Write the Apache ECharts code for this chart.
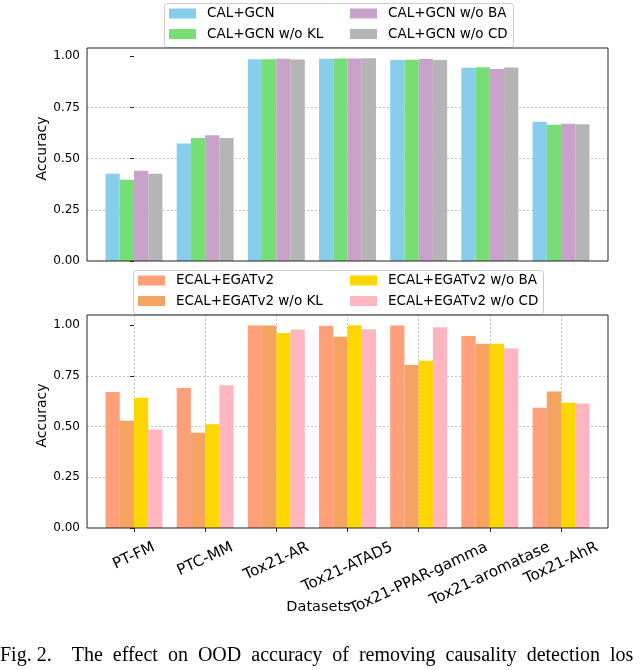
<!DOCTYPE html>
<html><head><meta charset="utf-8">
<script src="https://cdn.jsdelivr.net/npm/echarts@6/dist/echarts.min.js"></script>
<style>html,body{margin:0;padding:0;background:#fff}#c{width:640px;height:670px}</style>
</head><body><div id="c"></div>
<script>
// ---- data ----
const categories = ['PT-FM','PTC-MM','Tox21-AR','Tox21-ATAD5','Tox21-PPAR-gamma','Tox21-aromatase','Tox21-AhR'];
const yTicks = [0, 0.25, 0.5, 0.75, 1.0];
const topNames = ['CAL+GCN','CAL+GCN w/o KL','CAL+GCN w/o BA','CAL+GCN w/o CD'];
const calGcn     = [0.426, 0.574, 0.985, 0.988, 0.982, 0.943, 0.680];
const calGcnNoKL = [0.397, 0.601, 0.985, 0.989, 0.983, 0.946, 0.665];
const calGcnNoBA = [0.441, 0.614, 0.988, 0.989, 0.986, 0.938, 0.670];
const calGcnNoCD = [0.426, 0.601, 0.984, 0.990, 0.982, 0.945, 0.668];
const botNames = ['ECAL+EGATv2','ECAL+EGATv2 w/o KL','ECAL+EGATv2 w/o BA','ECAL+EGATv2 w/o CD'];
const ecal     = [0.671, 0.690, 0.998, 0.997, 0.998, 0.947, 0.593];
const ecalNoKL = [0.529, 0.470, 0.998, 0.943, 0.803, 0.908, 0.673];
const ecalNoBA = [0.642, 0.512, 0.961, 1.000, 0.824, 0.908, 0.617];
const ecalNoCD = [0.486, 0.704, 0.979, 0.980, 0.990, 0.885, 0.614];

// ---- styles ----
const topColors = ['#87CEEB', '#77DD77', '#C8A2C8', '#B5B5B5'];
const botColors = ['#FFA07A', '#F4A460', '#FFD700', '#FFB6C1'];
const FONT = '"DejaVu Sans", sans-serif';
const LBL = 15.2, ROT = 25, OFF = 11, LH = LBL * 1.1;
const rad = ROT * Math.PI / 180;
const ctx = document.createElement('canvas').getContext('2d');
ctx.font = LBL + 'px "DejaVu Sans"';
const labelWidths = categories.map(c => ctx.measureText(c).width);
const xTickVals = categories.map((c, i) => i);

const splitStyle = {color: '#b8b8b8', width: 0.8, type: [2, 2]};
function yAxis(gi, max) {
  return {type: 'value', gridIndex: gi, min: 0, max: max, interval: 0.25,
    name: 'Accuracy', nameLocation: 'middle', nameGap: 38, nameRotate: 90, nameMoveOverlap: false,
    nameTextStyle: {fontSize: 14, fontFamily: FONT, color: '#000', padding: [0, 0, 0, 12]},
    axisLine: {show: false},
    axisTick: {show: true, length: 4, customValues: yTicks, lineStyle: {color: '#222'}},
    axisLabel: {customValues: yTicks, fontSize: 12, fontFamily: FONT, color: '#000', margin: 7,
      formatter: v => v.toFixed(2)},
    splitLine: {show: true, showMinLine: false, showMaxLine: false, lineStyle: splitStyle}};
}
function bars(names, arrs, colors, gi) {
  return arrs.map((a, k) => ({type: 'bar', name: names[k], xAxisIndex: gi, yAxisIndex: gi,
    data: a.map((v, i) => [i, v]), barWidth: '20%', barGap: '0%',
    itemStyle: {color: colors[k]}, animation: false}));
}
function legend(names, left, top) {
  return {data: names, orient: 'vertical', left: left, top: top, padding: 0, itemGap: 4.5,
    itemWidth: 27, itemHeight: 10, icon: 'rect', selectedMode: false,
    textStyle: {fontSize: 13.5, fontFamily: FONT, color: '#000', lineHeight: 16, padding: [0, 0, 0, 6]}};
}
// rotated category labels, centred on each tick (matplotlib style)
const labelSeries = {
  type: 'custom', xAxisIndex: 1, yAxisIndex: 1, clip: false, silent: true, z: 5,
  data: xTickVals.map(i => [i, 0]),
  renderItem: (params, api) => {
    const i = api.value(0);
    const p = api.coord([i, 0]);
    const D = labelWidths[i] * Math.sin(rad) + LH * Math.cos(rad);
    return {type: 'text', x: p[0], y: p[1] + OFF + D / 2, rotation: rad,
      style: {text: categories[i], font: LBL + 'px "DejaVu Sans"', fill: '#000',
        align: 'center', verticalAlign: 'middle'}};
  }
};

const option = {
  animation: false,
  backgroundColor: '#fff',
  grid: [
    {left: 87, width: 521, top: 48, height: 213, show: true, borderColor: '#222', borderWidth: 1, z: 10, outerBoundsMode: 'none', containLabel: false},
    {left: 87, width: 521, top: 315, height: 213, show: true, borderColor: '#222', borderWidth: 1, z: 10, outerBoundsMode: 'none', containLabel: false}
  ],
  xAxis: [
    {type: 'value', gridIndex: 0, min: -0.66, max: 6.66, axisLine: {show: false}, axisTick: {show: false},
      axisLabel: {show: false}, splitLine: {show: false}},
    {type: 'value', gridIndex: 1, min: -0.66, max: 6.66, axisLine: {show: false},
      name: 'Datasets', nameLocation: 'middle', nameGap: 72, nameMoveOverlap: false,
      nameTextStyle: {fontSize: 14.5, fontFamily: FONT, color: '#000', padding: [0, 58, 0, 0]},
      axisTick: {show: true, length: 4, customValues: xTickVals, lineStyle: {color: '#222'}},
      axisLabel: {show: false, customValues: xTickVals},
      splitLine: {show: true, lineStyle: splitStyle}}
  ],
  yAxis: [yAxis(0, 1.04), yAxis(1, 1.05)],
  legend: [
    legend(topNames.slice(0, 2), 169, 5.5),
    legend(topNames.slice(2, 4), 350, 5.5),
    legend(botNames.slice(0, 2), 138, 272.5),
    legend(botNames.slice(2, 4), 350, 272.5)
  ],
  graphic: [
    {type: 'rect', left: 164, top: 3, z: 3, shape: {width: 349, height: 44, r: 3},
      style: {fill: 'rgba(255,255,255,0.8)', stroke: '#cccccc', lineWidth: 1}},
    {type: 'rect', left: 133, top: 270, z: 3, shape: {width: 410, height: 44, r: 3},
      style: {fill: 'rgba(255,255,255,0.8)', stroke: '#cccccc', lineWidth: 1}},
    {type: 'text', left: 0, top: 646, z: 5,
      style: {text: 'Fig. 2.    The  effect  on  OOD  accuracy  of  removing  causality  detection  los',
        font: '20px "Liberation Serif", serif', fill: '#000'}}
  ],
  series: [].concat(
    bars(topNames, [calGcn, calGcnNoKL, calGcnNoBA, calGcnNoCD], topColors, 0),
    bars(botNames, [ecal, ecalNoKL, ecalNoBA, ecalNoCD], botColors, 1),
    [labelSeries]
  )
};
const chart = echarts.init(document.getElementById('c'), null, {renderer: 'canvas'});
chart.setOption(option);
</script></body></html>
